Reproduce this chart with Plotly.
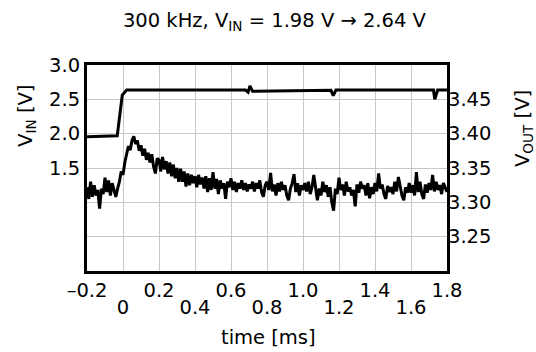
import plotly.graph_objects as go

# ---- data ----
t_vin = [-0.2, -0.032, -0.004, 0.02, 0.68, 0.695, 0.705, 0.72, 1.155, 1.168, 1.183,
         1.725, 1.732, 1.748, 1.8]
vin = [1.955, 1.97, 2.563, 2.636, 2.636, 2.605, 2.695, 2.617, 2.632, 2.555, 2.636,
       2.636, 2.50, 2.636, 2.636]

vout = [
    # -0.20 .. -0.11
    3.322, 3.305, 3.330, 3.308, 3.325, 3.310, 3.318, 3.291, 3.320, 3.312,
    # -0.10 .. -0.01
    3.336, 3.315, 3.332, 3.310, 3.328, 3.318, 3.308, 3.320, 3.330, 3.345,
    # 0.00 .. 0.09
    3.340, 3.358, 3.372, 3.382, 3.376, 3.390, 3.396, 3.385, 3.390, 3.375,
    # 0.10 .. 0.19
    3.383, 3.368, 3.378, 3.362, 3.372, 3.358, 3.370, 3.352, 3.342, 3.364,
    # 0.20 .. 0.29
    3.362, 3.345, 3.366, 3.348, 3.360, 3.342, 3.358, 3.338, 3.355, 3.335,
    # 0.30 .. 0.39
    3.350, 3.330, 3.349, 3.330, 3.345, 3.323, 3.342, 3.325, 3.340, 3.328,
    # 0.40 .. 0.49
    3.338, 3.322, 3.340, 3.326, 3.336, 3.320, 3.338, 3.315, 3.335, 3.318,
    # 0.50 .. 0.59
    3.344, 3.320, 3.334, 3.312, 3.332, 3.320, 3.328, 3.305, 3.330, 3.322,
    # 0.60 .. 0.69
    3.335, 3.318, 3.330, 3.315, 3.328, 3.320, 3.332, 3.318, 3.328, 3.316,
    # 0.70 .. 0.79
    3.326, 3.320, 3.330, 3.316, 3.328, 3.320, 3.332, 3.315, 3.308, 3.325,
    # 0.80 .. 0.89
    3.330, 3.318, 3.343, 3.316, 3.326, 3.310, 3.328, 3.316, 3.330, 3.318,
    # 0.90 .. 0.99
    3.325, 3.310, 3.303, 3.320, 3.328, 3.341, 3.315, 3.328, 3.310, 3.325,
    # 1.00 .. 1.09
    3.318, 3.328, 3.316, 3.330, 3.312, 3.322, 3.340, 3.318, 3.303, 3.320,
    # 1.10 .. 1.19
    3.310, 3.330, 3.315, 3.325, 3.308, 3.322, 3.300, 3.288, 3.320, 3.312,
    # 1.20 .. 1.29
    3.336, 3.318, 3.326, 3.310, 3.330, 3.316, 3.322, 3.310, 3.318, 3.294,
    # 1.30 .. 1.39
    3.326, 3.314, 3.330, 3.320, 3.325, 3.310, 3.328, 3.306, 3.322, 3.312,
    # 1.40 .. 1.49
    3.328, 3.316, 3.342, 3.320, 3.326, 3.312, 3.305, 3.324, 3.315, 3.322,
    # 1.50 .. 1.59
    3.312, 3.330, 3.316, 3.337, 3.320, 3.310, 3.303, 3.322, 3.314, 3.328,
    # 1.60 .. 1.69
    3.314, 3.325, 3.310, 3.344, 3.315, 3.330, 3.312, 3.305, 3.326, 3.314,
    # 1.70 .. 1.79
    3.328, 3.318, 3.340, 3.316, 3.330, 3.318, 3.325, 3.312, 3.328, 3.320,
    # 1.80
    3.315,
]
t_vout = [round(-0.2 + 0.01 * i, 2) for i in range(len(vout))]

x_ticks = [-0.2, 0, 0.2, 0.4, 0.6, 0.8, 1.0, 1.2, 1.4, 1.6, 1.8]
x_row1 = ["\u20130.2", "", "0.2", "", "0.6", "", "1.0", "", "1.4", "", "1.8"]
x_row2 = ["", "0", "", "0.4", "", "0.8", "", "1.2", "", "1.6", ""]
vin_ticks = [0.5, 1.0, 1.5, 2.0, 2.5, 3.0]
vin_labels = ["", "", "1.5", "2.0", "2.5", "3.0"]
vout_ticks = [3.25, 3.30, 3.35, 3.40, 3.45]
vout_labels = ["3.25", "3.30", "3.35", "3.40", "3.45"]

FONT = "DejaVu Sans, Liberation Sans, Arial, sans-serif"
FS = 19.5

fig = go.Figure()
fig.add_trace(go.Scatter(x=t_vin, y=vin, mode="lines", yaxis="y",
                         line=dict(color="black", width=3), showlegend=False))
fig.add_trace(go.Scatter(x=t_vout, y=vout, mode="lines", yaxis="y2",
                         line=dict(color="black", width=3), showlegend=False))
# invisible trace to carry the second row of x tick labels
fig.add_trace(go.Scatter(x=[-0.2, 1.8], y=[None, None], xaxis="x2", yaxis="y",
                         mode="lines", showlegend=False, hoverinfo="skip"))

fig.update_layout(
    width=536, height=352,
    margin=dict(l=87, r=89, t=65, b=81, autoexpand=False),
    paper_bgcolor="white", plot_bgcolor="white",
    font=dict(family=FONT, size=FS, color="black"),
    title=dict(text="300 kHz, V<sub>IN</sub> = 1.98 V \u2192 2.64 V",
               x=0.512, xanchor="center", y=0.943, yanchor="middle",
               font=dict(size=FS)),
    xaxis=dict(range=[-0.2, 1.8], tickvals=x_ticks, ticktext=x_row1,
               showgrid=True, gridcolor="#c8c8c8", gridwidth=1,
               showline=True, linecolor="black", linewidth=3, mirror=True,
               ticks="", zeroline=False, tickfont=dict(size=FS),
               ticklabelstandoff=0, automargin=False),
    xaxis2=dict(range=[-0.2, 1.8], overlaying="x", matches="x", side="bottom",
                tickvals=x_ticks, ticktext=x_row2, showgrid=False,
                showline=False, ticks="", zeroline=False,
                tickfont=dict(size=FS), ticklabelstandoff=22, automargin=False),
    yaxis=dict(range=[0, 3.0], tickvals=vin_ticks, ticktext=vin_labels,
               showgrid=True, gridcolor="#c8c8c8", gridwidth=1,
               showline=True, linecolor="black", linewidth=3, mirror=True,
               ticks="", zeroline=False, tickfont=dict(size=FS),
               ticklabelstandoff=0, automargin=False),
    yaxis2=dict(range=[3.20, 3.50], overlaying="y", side="right",
                tickvals=vout_ticks, ticktext=vout_labels, showgrid=False,
                showline=False, ticks="", zeroline=False,
                tickfont=dict(size=FS), ticklabelstandoff=0, automargin=False),
    annotations=[
        dict(text="V<sub>IN</sub> [V]", xref="paper", yref="paper",
             x=-0.17, y=0.752, textangle=-90, showarrow=False,
             xanchor="center", yanchor="middle", font=dict(size=FS)),
        dict(text="V<sub>OUT</sub> [V]", xref="paper", yref="paper",
             x=1.211, y=0.694, textangle=-90, showarrow=False,
             xanchor="center", yanchor="middle", font=dict(size=FS)),
        dict(text="time [ms]", xref="paper", yref="paper",
             x=0.503, y=-0.325, showarrow=False,
             xanchor="center", yanchor="middle", font=dict(size=FS)),
    ],
)

fig.write_html("out.html", config={"displayModeBar": False},
               post_script="document.body.style.margin='0px';document.body.style.padding='0px';")
